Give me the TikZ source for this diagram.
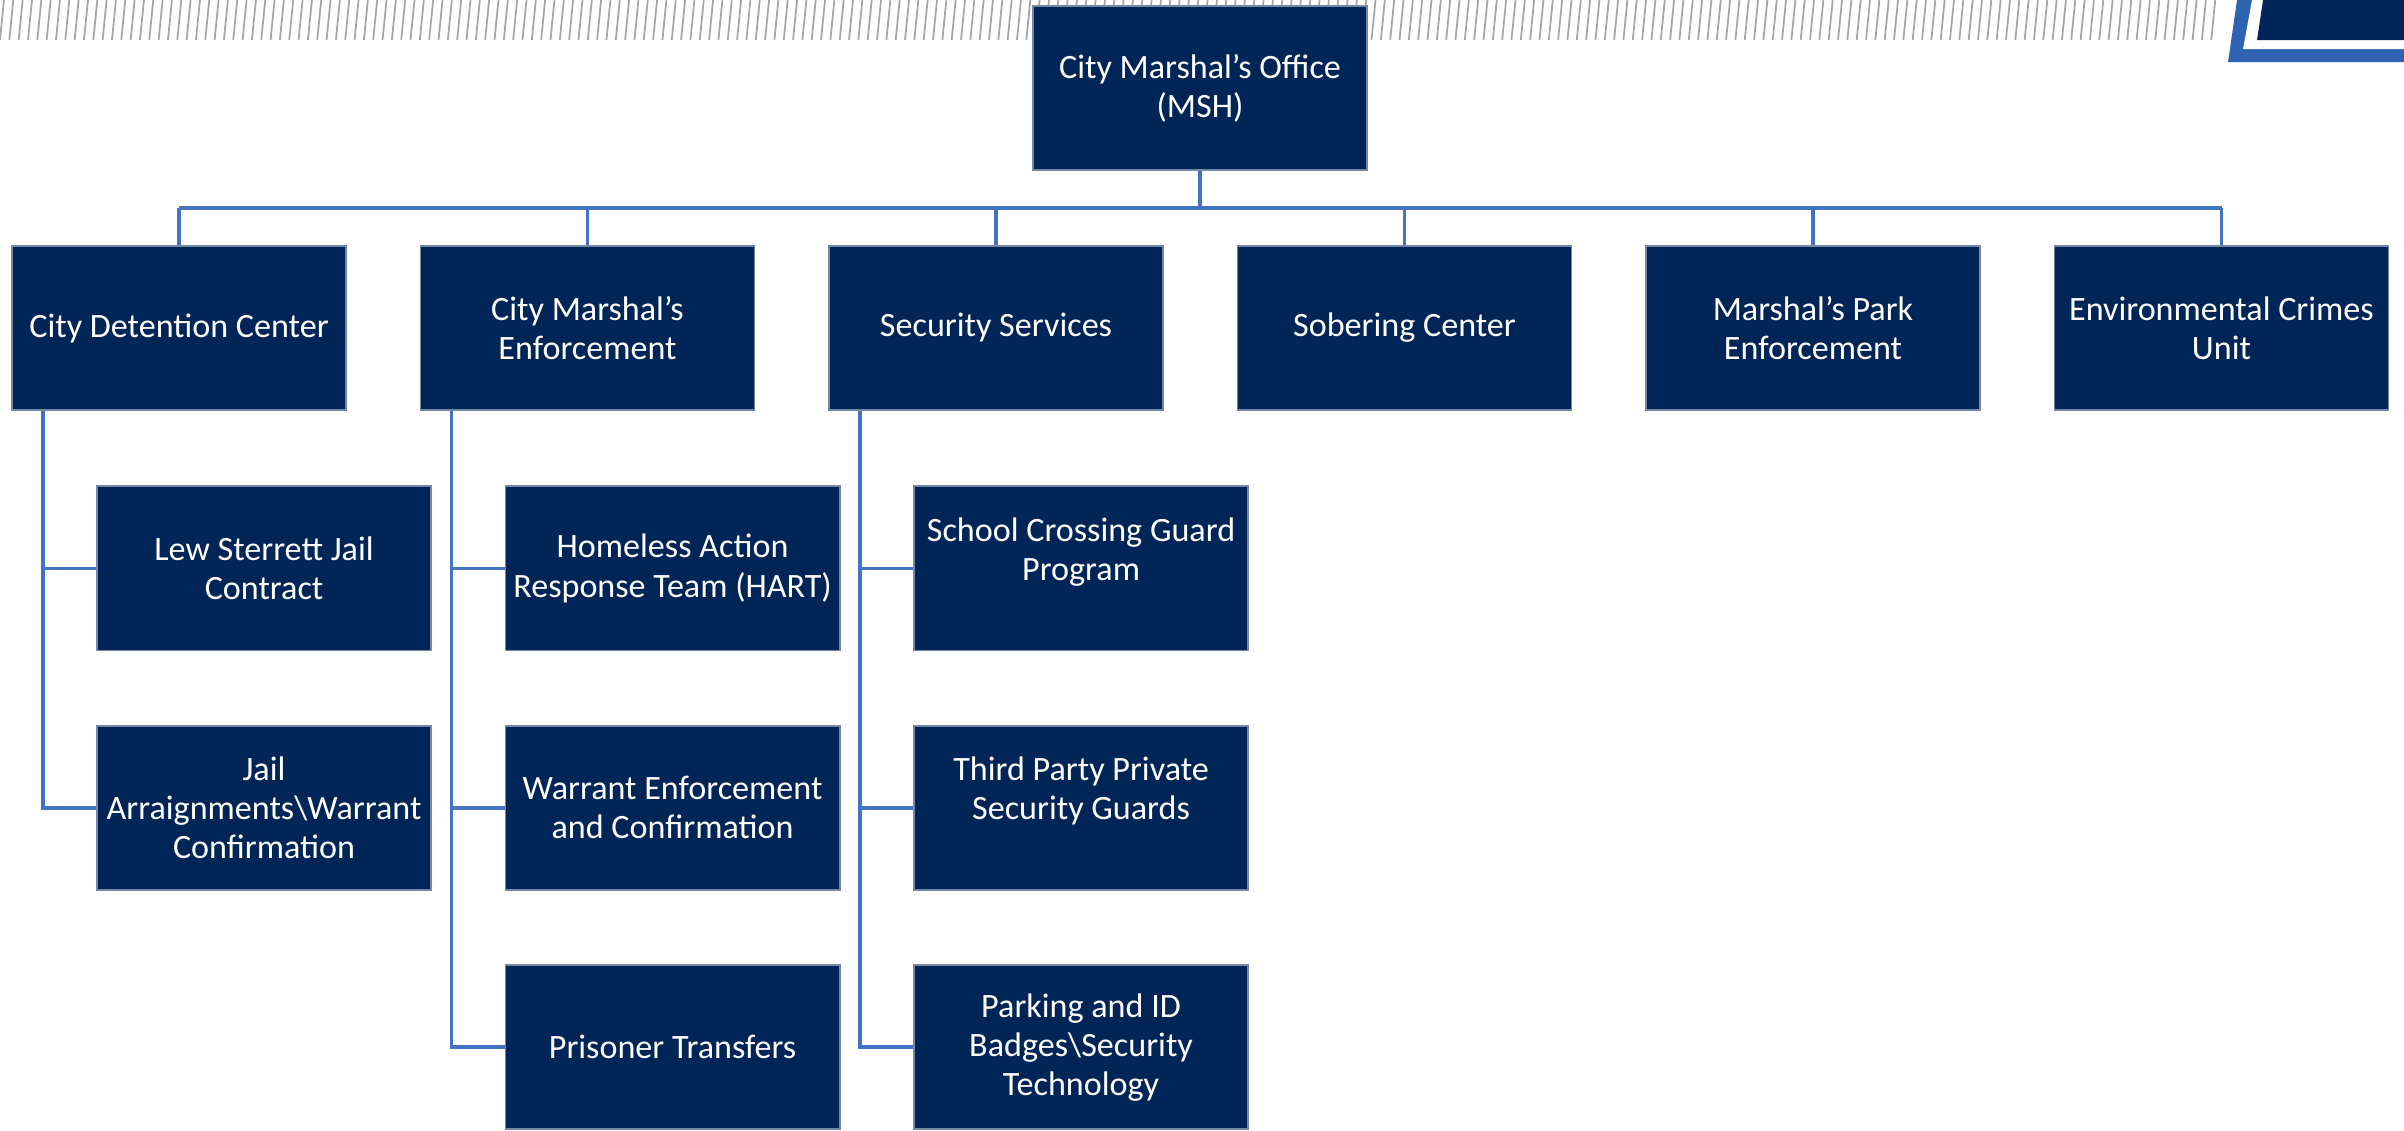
\documentclass[tikz,border=0pt]{standalone}
\usepackage{fontspec}
\setmainfont{Carlito}
\usetikzlibrary{positioning, calc}
\definecolor{navy}{RGB}{2,37,88}
\definecolor{linkblue}{RGB}{68,114,196}
\definecolor{bandblue}{RGB}{47,99,178}

\begin{document}
\begin{tikzpicture}
  [
  x = 0.01cm, y = -0.01cm,
  % boxes
  unit/.style = {rectangle, fill=navy, draw=navy!55!white, line width=0.5pt,
    text=white, align=center, inner sep=2pt,
    minimum width = 3.34cm, minimum height = 1.64cm,
    font=\fontsize{9.7}{11.1}\selectfont},
  % connectors
  link/.style = {draw=linkblue, line width=1pt},
  % stripes
  hatch/.style = {draw=gray!70, line width=0.5pt},
  node distance = 0.725cm,
  ]
  \useasboundingbox (0,0) rectangle (2404,1130);

  % stripes along the top
  \foreach \i in {0,...,237}
    \draw [hatch] (\i*9.33+4,0) -- (\i*9.33,40);

  % corner badge
  \fill [bandblue] (2237,0) -- (2228,62) -- (2404,62) -- (2404,0) -- cycle;
  \fill [white] (2252,0) -- (2243,49) -- (2404,49) -- (2404,0) -- cycle;
  \fill [navy] (2263,0) -- (2257,40) -- (2404,40) -- (2404,0) -- cycle;

  % nodes
  \node [unit] (msh) at (1200,88) {City Marshal’s Office\\(MSH)};
  \node [unit] (cdc) at (179,328) {City Detention Center};
  \node [unit, right= of cdc] (cme) {City Marshal’s\\Enforcement};
  \node [unit, right= of cme] (sec) {Security Services};
  \node [unit, right= of sec] (sob) {Sobering Center};
  \node [unit, right= of sob] (mpe) {Marshal’s Park\\Enforcement};
  \node [unit, right= of mpe] (ecu) {Environmental Crimes\\Unit};

  \node [unit, below=0.745cm of cdc, xshift=0.85cm] (lew) {Lew Sterrett Jail\\Contract};
  \node [unit, below=0.735cm of lew] (jail) {Jail\\Arraignments\textbackslash Warrant\\Confirmation};

  \node [unit, below=0.745cm of cme, xshift=0.85cm] (hart) {Homeless Action\\Response Team (HART)};
  \node [unit, below=0.735cm of hart] (warr) {Warrant Enforcement\\and Confirmation};
  \node [unit, below=0.735cm of warr] (pris) {Prisoner Transfers};

  \node [unit, below=0.745cm of sec, xshift=0.85cm] (scg) {School Crossing Guard\\Program\\\mbox{}};
  \node [unit, below=0.735cm of scg] (tpp) {Third Party Private\\Security Guards\\\mbox{}};
  \node [unit, below=0.735cm of tpp] (park) {Parking and ID\\Badges\textbackslash Security\\Technology};

  % path
  \coordinate (bus) at (0,208);
  \path [link] (msh.south) -- (msh.south |- bus);
  \path [link] (cdc.north |- bus) -- (ecu.north |- bus);
  \foreach \n in {cdc, cme, sec, sob, mpe, ecu}
    \path [link] (\n.north) -- (\n.north |- bus);

  \coordinate (cdcsp) at ($(cdc.south west)+(32,0)$);
  \path [link] (cdcsp) |- (lew.west);
  \path [link] (cdcsp) |- (jail.west);

  \coordinate (cmesp) at ($(cme.south west)+(32,0)$);
  \path [link] (cmesp) |- (hart.west);
  \path [link] (cmesp) |- (warr.west);
  \path [link] (cmesp) |- (pris.west);

  \coordinate (secsp) at ($(sec.south west)+(32,0)$);
  \path [link] (secsp) |- (scg.west);
  \path [link] (secsp) |- (tpp.west);
  \path [link] (secsp) |- (park.west);

\end{tikzpicture}
\end{document}
